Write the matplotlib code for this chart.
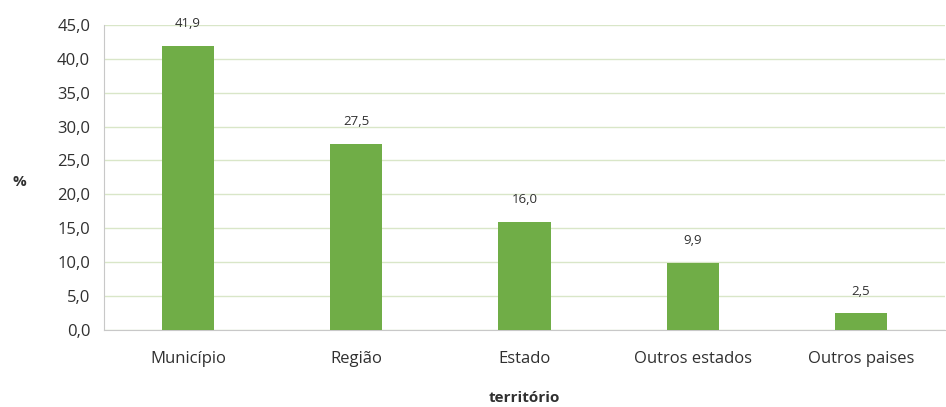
import matplotlib.pyplot as plt

plt.rcParams['font.family'] = ['Open Sans', 'DejaVu Sans']

# data
categorias = ['Município', 'Região', 'Estado', 'Outros estados', 'Outros paises']
valores = [41.9, 27.5, 16.0, 9.9, 2.5]
ticks_y = [0, 5, 10, 15, 20, 25, 30, 35, 40, 45]

fig = plt.figure(figsize=(9.46, 4.07), dpi=100)
ax = fig.add_axes([0.110, 0.189, 0.889, 0.75])

x = range(len(categorias))
ax.bar(x, valores, width=0.31, color='#70AD47', zorder=3)

for xi, v in zip(x, valores):
    ax.text(xi, v + 2.3, f'{v:.1f}'.replace('.', ','), ha='center', va='bottom',
            fontsize=9.5, color='#303030')

ax.set_xlim(-0.5, len(categorias) - 0.5)
ax.set_ylim(0, 45)
ax.set_yticks(ticks_y)
ax.set_yticklabels([f'{t:.1f}'.replace('.', ',') for t in ticks_y])
ax.set_xticks(list(x))
ax.set_xticklabels(categorias)
ax.tick_params(axis='both', length=0, labelsize=12, colors='#303030')
ax.tick_params(axis='x', pad=15)
ax.tick_params(axis='y', pad=10)

ax.grid(axis='y', color='#D9E6C8', linewidth=1, zorder=0)
for s in ['top', 'right']:
    ax.spines[s].set_visible(False)
ax.spines['left'].set_color('#C8C8C8')
ax.spines['bottom'].set_color('#C8C8C8')

ax.set_xlabel('território', fontsize=11, fontweight='bold', color='#303030', labelpad=17)
fig.text(0.02, 0.553, '%', fontsize=11, fontweight='bold', color='#303030', ha='center', va='center')

fig.savefig('out.png', dpi=100)
